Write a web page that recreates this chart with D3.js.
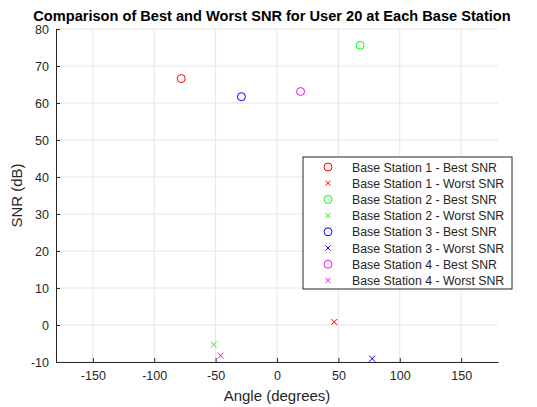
<!DOCTYPE html>
<html>
<head>
<meta charset="utf-8">
<script src="https://cdn.jsdelivr.net/npm/d3@7"></script>
<style>
body { margin: 0; background: #fff; }
text { font-family: "Liberation Sans", Arial, sans-serif; }
</style>
</head>
<body>
<svg width="537" height="407"></svg>
<script>
// data
var stations = ['Base Station 1', 'Base Station 2', 'Base Station 3', 'Base Station 4'];
var colors = ['#ff0000', '#00ff00', '#0000ff', '#ff00ff'];
var bestAngle = [-78, 67.7, -29, 19.2];
var bestSNR = [66.6, 75.6, 61.7, 63.1];
var worstAngle = [46.6, -51.5, 77.5, -46];
var worstSNR = [0.8, -5.3, -9.1, -8.3];
var xTicks = [-150, -100, -50, 0, 50, 100, 150];
var yTicks = [-10, 0, 10, 20, 30, 40, 50, 60, 70, 80];

var svg = d3.select('svg');
var padL = 56, padR = 498, padT = 29, padB = 362;

var scaleX = d3.scaleLinear().domain([-180, 180]).range([padL, padR]);
var scaleY = d3.scaleLinear().domain([-10, 80]).range([padB, padT]);

// grid
svg.append('g').selectAll('line').data(xTicks).enter().append('line')
    .attr('x1', function(d){ return scaleX(d); })
    .attr('x2', function(d){ return scaleX(d); })
    .attr('y1', padT).attr('y2', padB)
    .attr('stroke', '#e6e6e6').attr('stroke-width', 1);
svg.append('g').selectAll('line').data(yTicks).enter().append('line')
    .attr('x1', padL).attr('x2', padR)
    .attr('y1', function(d){ return scaleY(d); })
    .attr('y2', function(d){ return scaleY(d); })
    .attr('stroke', '#e6e6e6').attr('stroke-width', 1);

// axes
var fmt = function(d){ return String(d); };
var xAxis = svg.append('g')
    .attr('transform', 'translate(0,' + padB + ')')
    .call(d3.axisBottom(scaleX).tickValues(xTicks).tickFormat(fmt).tickSizeInner(-4).tickSizeOuter(0).tickPadding(9));
var yAxis = svg.append('g')
    .attr('transform', 'translate(' + padL + ',0)')
    .call(d3.axisLeft(scaleY).tickValues(yTicks).tickFormat(fmt).tickSizeInner(-4).tickSizeOuter(0).tickPadding(7));
[xAxis, yAxis].forEach(function(a){
    a.select('.domain').attr('stroke', '#262626');
    a.selectAll('.tick line').attr('stroke', '#262626');
    a.selectAll('.tick text').attr('fill', '#262626').attr('font-size', 12.5)
        .style('font-family', '"Liberation Sans", Arial, sans-serif');
});

// marks
function xMark(g, cx, cy, s, c){
    g.append('path')
        .attr('d', 'M' + (cx - s) + ',' + (cy - s) + 'L' + (cx + s) + ',' + (cy + s) +
                   'M' + (cx - s) + ',' + (cy + s) + 'L' + (cx + s) + ',' + (cy - s))
        .attr('stroke', c).attr('stroke-width', 1).attr('fill', 'none');
}
var marks = svg.append('g');
stations.forEach(function(s, i){
    marks.append('circle')
        .attr('cx', scaleX(bestAngle[i]))
        .attr('cy', scaleY(bestSNR[i]))
        .attr('r', 4)
        .attr('fill', 'none').attr('stroke', colors[i]).attr('stroke-width', 1);
    xMark(marks, scaleX(worstAngle[i]), scaleY(worstSNR[i]), 3, colors[i]);
});

// title and labels
svg.append('text')
    .attr('x', 272).attr('y', 21)
    .attr('text-anchor', 'middle')
    .attr('font-size', 14.6).attr('font-weight', 'bold').attr('fill', '#000')
    .text('Comparison of Best and Worst SNR for User 20 at Each Base Station');
svg.append('text')
    .attr('x', scaleX(0)).attr('y', 401)
    .attr('text-anchor', 'middle')
    .attr('font-size', 15).attr('fill', '#262626')
    .text('Angle (degrees)');
svg.append('text')
    .attr('transform', 'translate(22,' + ((padT + padB) / 2) + ') rotate(-90)')
    .attr('text-anchor', 'middle')
    .attr('font-size', 15).attr('fill', '#262626')
    .text('SNR (dB)');

// legend
var legend = svg.append('g').attr('transform', 'translate(303,157)');
legend.append('rect')
    .attr('width', 209).attr('height', 132)
    .attr('fill', '#fff').attr('stroke', '#262626').attr('stroke-width', 1);
var rows = [];
stations.forEach(function(s, i){
    rows.push({label: s + ' - Best SNR', type: 'o', color: colors[i]});
    rows.push({label: s + ' - Worst SNR', type: 'x', color: colors[i]});
});
rows.forEach(function(r, i){
    var y = 10 + i * 16.2;
    if (r.type === 'o') {
        legend.append('circle').attr('cx', 25).attr('cy', y).attr('r', 4)
            .attr('fill', 'none').attr('stroke', r.color).attr('stroke-width', 1);
    } else {
        xMark(legend, 25, y, 2.5, r.color);
    }
    legend.append('text')
        .attr('x', 49).attr('y', y + 4.5)
        .attr('font-size', 12.3).attr('fill', '#262626')
        .text(r.label);
});
</script>
</body>
</html>
